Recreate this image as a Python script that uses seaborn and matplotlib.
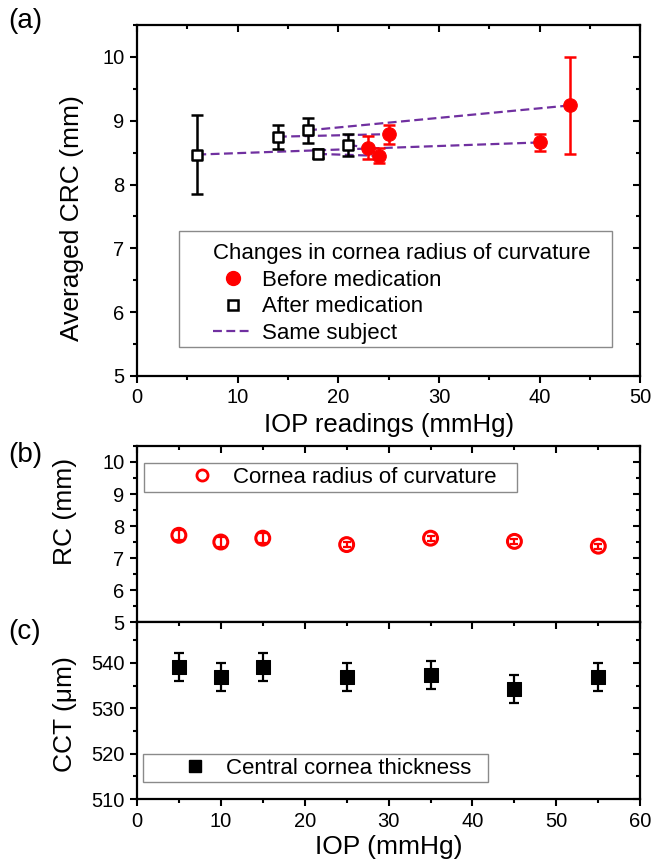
import matplotlib
matplotlib.use("Agg")
import matplotlib.pyplot as plt
import matplotlib.lines as mlines
from matplotlib.patches import Rectangle
from matplotlib.ticker import MultipleLocator
import seaborn as sns
import pandas as pd

# Panel (a): paired subjects, after vs before medication
after_iop = [6, 14, 17, 18, 21]
after_crc = [8.47, 8.75, 8.85, 8.48, 8.62]
after_err = [0.62, 0.19, 0.20, 0.07, 0.17]
before_iop = [40, 25, 43, 24, 23]
before_crc = [8.66, 8.79, 9.24, 8.45, 8.58]
before_err = [0.14, 0.15, 0.76, 0.12, 0.18]

# Panels (b) and (c)
iop = [5, 10, 15, 25, 35, 45, 55]
rc = [7.71, 7.50, 7.62, 7.42, 7.62, 7.52, 7.37]
rc_err = [0.15, 0.15, 0.15, 0.08, 0.08, 0.08, 0.08]
cct = [539.1, 536.9, 539.1, 536.9, 537.3, 534.2, 536.9]
cct_err = [3.1, 3.1, 3.1, 3.1, 3.1, 3.1, 3.1]

sns.set_style("ticks")
plt.rcParams['font.family'] = ['Liberation Sans', 'DejaVu Sans']
plt.rcParams['axes.edgecolor'] = 'black'
plt.rcParams['xtick.color'] = 'black'
plt.rcParams['ytick.color'] = 'black'
plt.rcParams['text.color'] = 'black'
plt.rcParams['axes.labelcolor'] = 'black'

purple = '#7030A0'
red = '#FF0000'
box_col = '#8a8a8a'

fig = plt.figure(figsize=(6.52, 8.6), dpi=100)
L, R = 0.210, 0.982
ax1 = fig.add_axes([L, 0.5628, R - L, 0.9709 - 0.5628])
ax2 = fig.add_axes([L, 0.2767, R - L, 0.4814 - 0.2767])
ax3 = fig.add_axes([L, 0.0709, R - L, 0.2767 - 0.0709], sharex=ax2)

def style(ax):
    ax.tick_params(which='both', direction='out', width=1.5, labelsize=14.5,
                   top=True, right=True, colors='black', pad=4)
    ax.tick_params(which='major', length=5)
    ax.tick_params(which='minor', length=3)
    for s in ax.spines.values():
        s.set_linewidth(1.6)
        s.set_color('black')

def mirror_in(ax):
    # bottom/left ticks point out, top/right ticks point in
    for t in ax.xaxis.get_major_ticks() + ax.xaxis.get_minor_ticks():
        t.tick2line.set_marker(mlines.TICKDOWN)
    for t in ax.yaxis.get_major_ticks() + ax.yaxis.get_minor_ticks():
        t.tick2line.set_marker(mlines.TICKLEFT)

def frame_box(ax, x0, y0, x1, y1):
    ax.add_patch(Rectangle((x0, y0), x1 - x0, y1 - y0, transform=ax.transAxes,
                           facecolor='white', edgecolor=box_col, lw=1.0, zorder=5))

# ---- (a)
pairs = pd.DataFrame({
    'iop': after_iop + before_iop,
    'crc': after_crc + before_crc,
    'subject': list(range(5)) + list(range(5)),
})
sns.lineplot(data=pairs, x='iop', y='crc', units='subject', estimator=None,
             color=purple, lw=1.6, ls=(0, (4, 2)), ax=ax1, legend=False, sort=False)
ax1.errorbar(after_iop, after_crc, yerr=after_err, fmt='none', ecolor='black',
             elinewidth=1.8, capsize=4, capthick=1.8, zorder=3)
ax1.errorbar(before_iop, before_crc, yerr=before_err, fmt='none', ecolor=red,
             elinewidth=1.8, capsize=4, capthick=1.8, zorder=3)
sns.scatterplot(x=before_iop, y=before_crc, marker='o', s=95, color=red,
                edgecolor=red, ax=ax1, zorder=4)
sns.scatterplot(x=after_iop, y=after_crc, marker='s', s=60, facecolor='white',
                edgecolor='black', linewidth=1.8, ax=ax1, zorder=4)
ax1.set_xlim(0, 50)
ax1.set_ylim(5, 10.5)
ax1.xaxis.set_major_locator(MultipleLocator(10))
ax1.xaxis.set_minor_locator(MultipleLocator(5))
ax1.yaxis.set_major_locator(MultipleLocator(1))
ax1.yaxis.set_minor_locator(MultipleLocator(0.5))
ax1.set_xlabel('IOP readings (mmHg)', fontsize=18.5, labelpad=4)
ax1.set_ylabel('Averaged CRC (mm)', fontsize=19)
ax1.yaxis.set_label_coords(-0.105, 0.45)

frame_box(ax1, 0.0835, 0.083, 0.944, 0.413)
h_before = plt.Line2D([], [], ls='none', marker='o', ms=10, color=red)
h_after = plt.Line2D([], [], ls='none', marker='s', ms=7, mfc='white', mec='black', mew=1.8)
h_same = plt.Line2D([], [], color=purple, lw=1.6, ls=(0, (4, 2)))
leg = ax1.legend([h_before, h_after, h_same],
                 ['Before medication', 'After medication', 'Same subject'],
                 title='Changes in cornea radius of curvature', loc='upper left',
                 bbox_to_anchor=(0.152, 0.378), fontsize=16, title_fontsize=16,
                 frameon=False, handlelength=1.75, handletextpad=0.45, borderpad=0,
                 labelspacing=0.25, borderaxespad=0, alignment='left')
leg.set_zorder(6)
style(ax1)

# ---- (b)
ax2.errorbar(iop, rc, yerr=rc_err, fmt='none', ecolor=red, elinewidth=1.6,
             capsize=3, capthick=1.6, zorder=3)
sns.scatterplot(x=iop, y=rc, marker='o', s=100, facecolor='none', edgecolor=red,
                linewidth=2.2, ax=ax2, zorder=4)
ax2.set_ylim(5, 10.5)
ax2.yaxis.set_major_locator(MultipleLocator(1))
ax2.yaxis.set_minor_locator(MultipleLocator(0.5))
ax2.set_xlim(0, 60)
ax2.xaxis.set_major_locator(MultipleLocator(10))
ax2.xaxis.set_minor_locator(MultipleLocator(5))
ax2.set_ylabel('RC (mm)', fontsize=19)
ax2.yaxis.set_label_coords(-0.12, 0.63)
frame_box(ax2, 0.0139, 0.739, 0.755, 0.903)
h_rc = plt.Line2D([], [], ls='none', marker='o', ms=8, mfc='none', mec=red, mew=2)
leg2 = ax2.legend([h_rc], ['Cornea radius of curvature'], loc='center left',
                  bbox_to_anchor=(0.0855, 0.82), fontsize=16, frameon=False,
                  handlelength=2.0, handletextpad=0.4, borderpad=0, borderaxespad=0)
leg2.set_zorder(6)
style(ax2)
ax2.tick_params(axis='x', labelbottom=False)

# ---- (c)
ax3.errorbar(iop, cct, yerr=cct_err, fmt='none', ecolor='black', elinewidth=1.6,
             capsize=3.5, capthick=1.6, zorder=3)
sns.scatterplot(x=iop, y=cct, marker='s', s=90, color='black', edgecolor='black',
                ax=ax3, zorder=4)
ax3.set_ylim(510, 549)
ax3.yaxis.set_major_locator(MultipleLocator(10))
ax3.yaxis.set_minor_locator(MultipleLocator(5))
ax3.set_xlim(0, 60)
ax3.set_xlabel('IOP (mmHg)', fontsize=19, labelpad=3)
ax3.set_ylabel('CCT (\u03bcm)', fontsize=19)
ax3.yaxis.set_label_coords(-0.12, 0.48)
frame_box(ax3, 0.0119, 0.096, 0.697, 0.254)
h_cct = plt.Line2D([], [], ls='none', marker='s', ms=8, color='black')
leg3 = ax3.legend([h_cct], ['Central cornea thickness'], loc='center left',
                  bbox_to_anchor=(0.0716, 0.175), fontsize=16, frameon=False,
                  handlelength=2.0, handletextpad=0.4, borderpad=0, borderaxespad=0)
leg3.set_zorder(6)
style(ax3)

for ax in (ax1, ax2, ax3):
    mirror_in(ax)

fig.text(0.012, 0.975, '(a)', fontsize=20, va='center')
fig.text(0.012, 0.471, '(b)', fontsize=20, va='center')
fig.text(0.012, 0.265, '(c)', fontsize=20, va='center')

fig.savefig('out.png', dpi=100)
